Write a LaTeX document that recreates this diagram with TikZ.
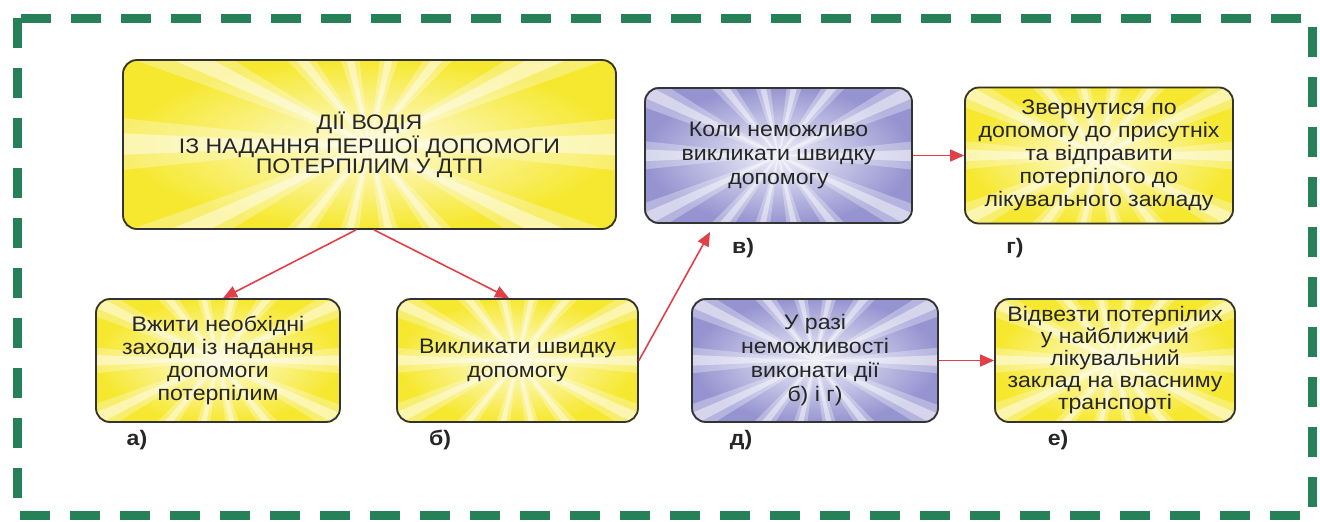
\documentclass[tikz,border=0pt]{standalone}
\usepackage{fontspec}
\setmainfont[FakeStretch=1.1]{Liberation Sans}
\usetikzlibrary{arrows.meta}

\definecolor{framegreen}{RGB}{38,128,88}
\definecolor{sunyellow}{RGB}{246,232,46}
\definecolor{lilac}{RGB}{150,148,208}
\definecolor{arrowred}{RGB}{226,64,72}

\pgfdeclarelayer{background}
\pgfsetlayers{background,main}

\tikzset{
	box/.style={draw=black!80, line width=0.9pt, rounded corners=7pt, align=center, inner sep=0pt, text=black!85, font=\fontsize{10.5}{11.6}\selectfont},
	arr/.style={draw=arrowred, line width=0.8pt, -{Triangle[length=7pt,width=6pt]}},
	tag/.style={text=black!85, font=\bfseries\fontsize{10.5}{12}\selectfont}
}

% sunburst fill behind a box
\newcommand{\burst}[2]{%
	\begin{scope}
		\clip[rounded corners=7pt] (#1.south west) rectangle (#1.north east);
		\shade[inner color=white!85!#2, outer color=#2] (#1.south west) rectangle (#1.north east);
		\foreach \ang in {0,25.7,...,350}{
			\fill[white, opacity=0.3, shift={(#1.center)}] (0,0) -- ({\ang-6}:200pt) -- ({\ang+6}:200pt) -- cycle;
			\fill[white, opacity=0.45, shift={(#1.center)}] (0,0) -- ({\ang-2.5}:200pt) -- ({\ang+2.5}:200pt) -- cycle;
		}
	\end{scope}}

\begin{document}
\begin{tikzpicture}[x=0.5pt, y=-0.5pt]
	\useasboundingbox (0,0) rectangle (1320,521);
	\draw[framegreen, line width=4.5pt, dash pattern=on 15pt off 10pt] (17,18) rectangle (1312,515);

	\node (main) at (369.5,144.5) [box, minimum width=246.5pt, minimum height=84.5pt, font=\fontsize{10.5}{10}\selectfont]{ДІЇ ВОДІЯ\\ІЗ НАДАННЯ ПЕРШОЇ ДОПОМОГИ\\ПОТЕРПІЛИМ У ДТП};

	\node (aid) at (218,360.5) [box, minimum width=122pt, minimum height=61.5pt]{Вжити необхідні\\заходи із надання\\допомоги\\потерпілим};
	\node (call) at (517.5,360.5) [box, minimum width=120.5pt, minimum height=61.5pt]{Викликати швидку\\допомогу};
	\node (nocall) at (778.5,155.5) [box, minimum width=133.5pt, minimum height=67.5pt, font=\fontsize{10.5}{12}\selectfont]{Коли неможливо\\викликати швидку\\допомогу};
	\node (ask) at (1099,155.5) [box, minimum width=134pt, minimum height=68pt, font=\fontsize{10.5}{11.5}\selectfont]{Звернутися по\\допомогу до присутніх\\та відправити\\потерпілого до\\лікувального закладу};
	\node (unable) at (815,360.5) [box, minimum width=123pt, minimum height=61.5pt, font=\fontsize{10.5}{12}\selectfont]{У разі\\неможливості\\виконати дії\\б) і г)};
	\node (drive) at (1115,360.5) [box, minimum width=120pt, minimum height=61.5pt, font=\fontsize{10.5}{11}\selectfont]{Відвезти потерпілих\\у найближчий\\лікувальний\\заклад на власниму\\транспорті};

	\node (taga) at (137,440) [tag]{а)};
	\node (tagb) at (440,440) [tag]{б)};
	\node (tagv) at (743,248) [tag]{в)};
	\node (tagg) at (1015,248) [tag]{г)};
	\node (tagd) at (741,440) [tag]{д)};
	\node (tage) at (1058,440) [tag]{е)};

	\begin{pgfonlayer}{background}
		\burst{main}{sunyellow}
		\burst{aid}{sunyellow}
		\burst{call}{sunyellow}
		\burst{nocall}{lilac}
		\burst{ask}{sunyellow}
		\burst{unable}{lilac}
		\burst{drive}{sunyellow}
	\end{pgfonlayer}

	\coordinate (vtip) at (710,232);
	\draw[arr] ([xshift=-6.75pt]main.south) -- ([xshift=2.5pt]aid.north);
	\draw[arr] ([xshift=2.25pt]main.south) -- ([xshift=-4.25pt]call.north);
	\draw[arr] (call.east) -- (vtip);
	\draw[arr] (nocall.east) -- (ask.west);
	\draw[arr] (unable.east) -- (drive.west);
\end{tikzpicture}
\end{document}
